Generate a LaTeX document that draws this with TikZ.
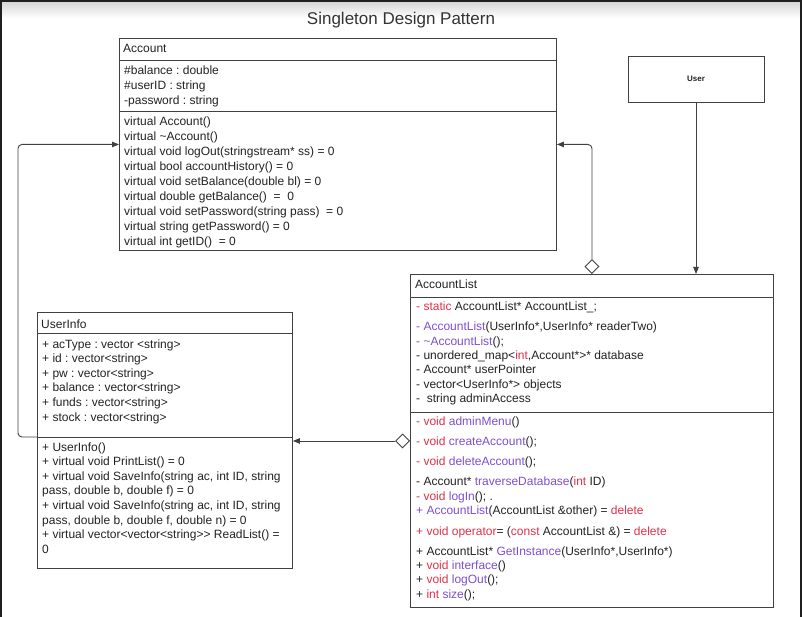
\documentclass[tikz,border=0pt]{standalone}
\usepackage{fontspec}
\setmainfont{Liberation Sans}
\usetikzlibrary{arrows.meta,shapes.geometric}
\usepackage{xcolor}
\frenchspacing

\definecolor{kwred}{RGB}{222,48,72}
\definecolor{fnpurple}{RGB}{126,78,206}
\definecolor{inkgray}{RGB}{34,34,34}
\newcommand{\kw}[1]{\textcolor{kwred}{#1}}
\newcommand{\fn}[1]{\textcolor{fnpurple}{#1}}

\tikzset{
  umlbox/.style={draw=black!75, line width=0.9pt, anchor=north west, inner sep=0pt},
  umlrule/.style={draw=black!75, line width=0.9pt},
  umltxt/.style={anchor=base west, inner sep=0pt, text=inkgray},
  agg/.style={diamond, draw=black!75, line width=0.9pt, fill=white, inner sep=0pt,
    minimum width=14pt, minimum height=14pt},
  conn/.style={draw=black!75, line width=0.9pt, -{Triangle[length=7pt,width=5.5pt]}}
}

\begin{document}
\begin{tikzpicture}[x=1pt, y=-1pt, font=\fontsize{12}{15}\selectfont]

% canvas (pixel coordinates, y downwards)
\useasboundingbox (0,0) rectangle (802,617);
\shade[top color=black!16, bottom color=white] (2,2) rectangle (800,18);
\fill[black!88] (0,0) rectangle (802,2);
\fill[black!88] (0,0) rectangle (2,617);
\fill[black!88] (800,0) rectangle (802,617);

% Title
\node[font=\fontsize{17}{20}\selectfont, text=black!80] (title) at (401,20) {Singleton Design Pattern};

% ---------------- Account ----------------
\node[umlbox, minimum width=437pt, minimum height=212pt] (account) at (119,38) {};
\draw[umlrule] (119,60) -- (556,60);
\draw[umlrule] (119,111) -- (556,111);
\node[umltxt] (acc-name) at (123,53) {Account};

\foreach \txt [count=\i] in {{\#balance : double}, {\#userID : string}, {-password : string}}
  \node[umltxt] (acc-a\i) at (124,{59.5+15*\i}) {\txt};

\foreach \txt [count=\i] in {
    {virtual Account()},
    {virtual \textasciitilde Account()},
    {virtual void logOut(stringstream* ss) = 0},
    {virtual bool accountHistory() = 0},
    {virtual void setBalance(double bl) = 0},
    {virtual double getBalance()\ \ =\ \ 0},
    {virtual void setPassword(string pass)\ \ = 0},
    {virtual string getPassword() = 0},
    {virtual int getID()\ \ = 0}}
  \node[umltxt] (acc-m\i) at (124,{110.5+15*\i}) {\txt};

% ---------------- User ----------------
\node[draw=black!75, line width=0.9pt, minimum width=136pt, minimum height=46pt,
  font=\bfseries\fontsize{8}{10}\selectfont, text=inkgray] (user) at (696,79) {User};

% ---------------- AccountList ----------------
\node[umlbox, minimum width=363pt, minimum height=333pt] (alist) at (410,274) {};
\draw[umlrule] (410,297) -- (773,297);
\draw[umlrule] (410,412) -- (773,412);
\node[umltxt] (al-name) at (415,288.5) {AccountList};

\foreach \y/\txt [count=\i] in {
    306/{\kw{- static} AccountList* AccountList\_;},
    326/{\fn{- AccountList}(UserInfo*,UserInfo* readerTwo)},
    341/{\fn{- \textasciitilde AccountList}();},
    355/{- unordered\_map<\kw{int},Account*>* database},
    369/{- Account* userPointer},
    384/{- vector<UserInfo*> objects},
    398/{-\ \ string adminAccess}}
  \node[umltxt] (al-a\i) at (416,\y+4.5) {\txt};

\foreach \y/\txt [count=\i] in {
    421/{\kw{- void} \fn{adminMenu}()},
    441/{\kw{- void} \fn{createAccount}();},
    461/{\kw{- void} \fn{deleteAccount}();},
    481/{- Account* \fn{traverseDatabase}(\kw{int} ID)},
    496/{\kw{- void} \fn{logIn}(); .},
    510/{\fn{+ AccountList}(AccountList \&other) = \kw{delete}},
    531/{\kw{+ void operator}= (\kw{const} AccountList \&) = \kw{delete}},
    551/{+ AccountList* \fn{GetInstance}(UserInfo*,UserInfo*)},
    565/{+ \kw{void} \fn{interface}()},
    579/{+ \kw{void} \fn{logOut}();},
    594/{+ \kw{int} \fn{size}();}}
  \node[umltxt] (al-m\i) at (416,\y+4.5) {\txt};

% ---------------- UserInfo ----------------
\node[umlbox, minimum width=255pt, minimum height=256pt] (uinfo) at (37,312) {};
\draw[umlrule] (37,333) -- (292,333);
\coordinate (uiSplit) at (37,437);
\draw[umlrule] (uiSplit) -- (292,437);
\node[umltxt] (ui-name) at (41,328) {UserInfo};

\foreach \txt [count=\i] in {
    {+ acType : vector <string>},
    {+ id : vector<string>},
    {+ pw : vector<string>},
    {+ balance : vector<string>},
    {+ funds : vector<string>},
    {+ stock : vector<string>}}
  \node[umltxt] (ui-a\i) at (42,{333.5+14.6*\i}) {\txt};

\foreach \txt [count=\i] in {
    {+ UserInfo()},
    {+ virtual void PrintList() = 0},
    {+ virtual void SaveInfo(string ac, int ID, string},
    {pass, double b, double f) = 0},
    {+ virtual void SaveInfo(string ac, int ID, string},
    {pass, double b, double f, double n) = 0},
    {+ virtual vector<vector<string>{}> ReadList() =},
    {0}}
  \node[umltxt] (ui-m\i) at (42,{436.5+14.6*\i}) {\txt};

% ---------------- connectors ----------------
% User -> AccountList
\draw[conn] (user.south) -- (user.south |- alist.north);

% AccountList <>-> Account
\node[agg, anchor=south] (dTop) at (alist.north) {};
\draw[conn, rounded corners=4pt] (dTop.north) |- (account.east);

% AccountList <>-> UserInfo
\node[agg, anchor=east] (dLeft) at (alist.west) {};
\draw[conn] (dLeft.west) -- (dLeft.west -| uinfo.east);

% UserInfo -> Account
\draw[conn, rounded corners=4pt] (uiSplit) -- ++(-19,0) |- (account.west);

\end{tikzpicture}
\end{document}
